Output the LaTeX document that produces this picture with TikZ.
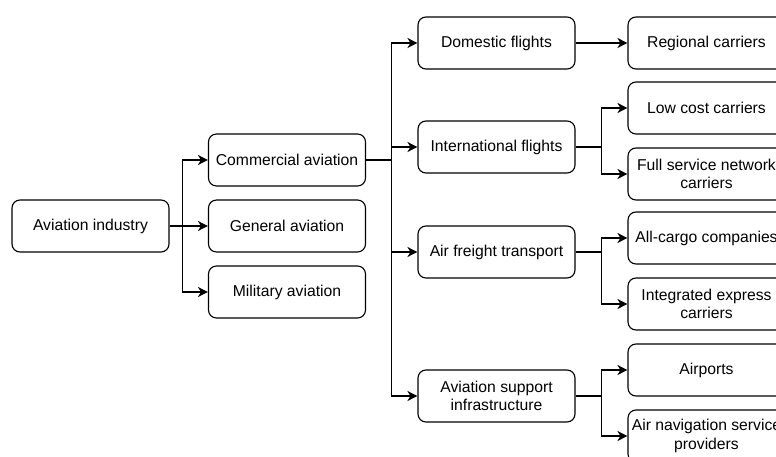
\documentclass[tikz,border=0pt]{standalone}
\usepackage{fontspec}
\setmainfont{Liberation Sans}
\usepackage{tikz}
\usetikzlibrary{arrows.meta, positioning, calc}

\begin{document}
\begin{tikzpicture}[
    x=1pt, y=-1pt,
    box/.style={
        draw, rounded corners=8pt, minimum width=157pt, minimum height=52pt,
        align=center, line width=1.1pt, inner sep=2pt,
        font=\fontsize{15.7}{18.5}\selectfont
    },
    arr/.style={-{Stealth[length=10pt, width=10pt, inset=3pt]}, line width=1.1pt},
    link/.style={line width=1.1pt}
]

\useasboundingbox (0,0) rectangle (776,457);
\clip (0,0) rectangle (776,457);

% level 1
\node[box] (ind) at (90.5, 226) {Aviation industry};

% level 2
\node[box] (com) at (287, 160) {Commercial aviation};
\node[box] (gen) at (287, 226) {General aviation};
\node[box] (mil) at (287, 292) {Military aviation};

% level 3
\node[box] (dom) at (496.5, 43)  {Domestic flights};
\node[box] (int) at (496.5, 147) {International flights};
\node[box] (frt) at (496.5, 252) {Air freight transport};
\node[box] (sup) at (496.5, 396) {Aviation support\\infrastructure};

% level 4
\node[box] (reg) at (706.5, 43)  {Regional carriers};
\node[box] (low) at (706.5, 108) {Low cost carriers};
\node[box] (ful) at (706.5, 174) {Full service network\\carriers};
\node[box] (crg) at (706.5, 238) {All-cargo companies};
\node[box] (exp) at (706.5, 304) {Integrated express\\carriers};
\node[box] (apt) at (706.5, 370) {Airports};
\node[box] (ans) at (706.5, 436) {Air navigation service\\providers};

% industry -> sectors
\draw[arr] (ind.east) -- (gen.west);
\draw[arr] (ind.east) -- ++(13,0) |- (com.west);
\draw[arr] (ind.east) -- ++(13,0) |- (mil.west);

% commercial -> segments
\coordinate (trunk) at ($(com.east)+(25.5,0)$);
\draw[link] (com.east) -- (trunk);
\draw[arr] (trunk) |- (dom.west);
\draw[arr] (trunk) |- (int.west);
\draw[arr] (trunk) |- (frt.west);
\draw[arr] (trunk) |- (sup.west);

% segments -> operators
\draw[arr] (dom.east) -- (reg.west);
\draw[arr] (int.east) -- ++(26,0) |- (low.west);
\draw[arr] (int.east) -- ++(26,0) |- (ful.west);
\draw[arr] (frt.east) -- ++(26,0) |- (crg.west);
\draw[arr] (frt.east) -- ++(26,0) |- (exp.west);
\draw[arr] (sup.east) -- ++(26,0) |- (apt.west);
\draw[arr] (sup.east) -- ++(26,0) |- (ans.west);

\end{tikzpicture}
\end{document}
